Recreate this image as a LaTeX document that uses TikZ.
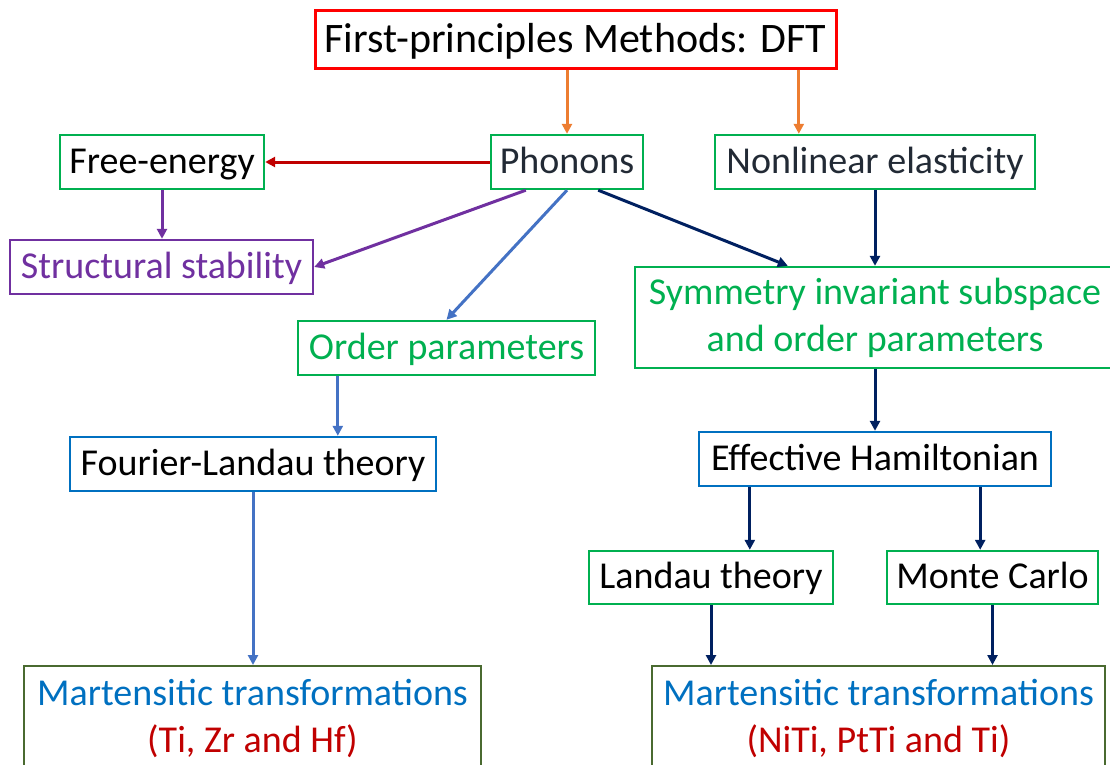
\documentclass[tikz,border=0pt]{standalone}
\usepackage{fontspec}
\setmainfont{Carlito}
\usetikzlibrary{arrows.meta}
\definecolor{cTitle}{HTML}{FF0000}
\definecolor{cGreen}{HTML}{00B050}
\definecolor{cPurple}{HTML}{7030A0}
\definecolor{cBlueBox}{HTML}{0070C0}
\definecolor{cOlive}{HTML}{4A6A30}
\definecolor{cDark}{HTML}{222A35}
\definecolor{cDarkRed}{HTML}{C00000}
\definecolor{cOrange}{HTML}{ED7D31}
\definecolor{cBlueArr}{HTML}{4472C4}
\definecolor{cNavy}{HTML}{002060}
\begin{document}
\begin{tikzpicture}[x=1pt,y=-1pt,
  box/.style={draw, line width=2.4pt, inner sep=0pt, align=center,
    font=\fontsize{38}{47}\selectfont},
  oneline/.style={text height=30pt, text depth=8pt},
  arr/.style={line width=3pt, -{Triangle[length=10pt,width=10pt]}}]
\useasboundingbox (0,0) rectangle (1110,764);
\clip (0,0) rectangle (1110,764);

\node[box, draw=cTitle, line width=3pt, minimum width=521pt, minimum height=58pt,
  text height=33pt, text depth=7pt,
  font=\fontsize{42}{50}\selectfont] (title) at (575.5,39) {First-principles Methods: DFT};
\node[box, oneline, draw=cGreen, minimum width=204pt, minimum height=54pt] (free) at (162,162) {Free-energy};
\node[box, oneline, draw=cGreen, text=cDark, minimum width=152pt, minimum height=54pt] (phon) at (567,162) {Phonons};
\node[box, oneline, draw=cGreen, text=cDark, minimum width=320pt, minimum height=54pt] (nonlin) at (875,162) {Nonlinear elasticity};
\node[box, oneline, draw=cPurple, text=cPurple, minimum width=303pt, minimum height=54pt] (struct) at (161.5,267) {Structural stability};
\node[box, oneline, draw=cGreen, text=cGreen, minimum width=297pt, minimum height=54pt] (order) at (446.5,348) {Order parameters};
\node[box, draw=cGreen, text=cGreen, minimum width=480pt, minimum height=101pt] (sym) at (875,317.5) {Symmetry invariant subspace\\and order parameters};
\node[box, oneline, draw=cBlueBox, minimum width=366pt, minimum height=54pt] (fourier) at (253,464) {Fourier-Landau theory};
\node[box, oneline, draw=cBlueBox, minimum width=352pt, minimum height=54pt] (eh) at (875,459) {Effective Hamiltonian};
\node[box, oneline, draw=cGreen, minimum width=244pt, minimum height=53pt] (landau) at (711,577.5) {Landau theory};
\node[box, oneline, draw=cGreen, minimum width=211pt, minimum height=53pt] (mc) at (992.5,577.5) {Monte Carlo};
\node[box, draw=cOlive, anchor=north, minimum width=457pt] (mL) at (252.5,665)
  {\rule{0pt}{39pt}\textcolor{cBlueBox}{Martensitic transformations}\\\textcolor{cDarkRed}{(Ti, Zr and Hf)}\\\mbox{}};
\node[box, draw=cOlive, anchor=north, minimum width=453pt] (mR) at (878.5,665)
  {\rule{0pt}{39pt}\textcolor{cBlueBox}{Martensitic transformations}\\\textcolor{cDarkRed}{(NiTi, PtTi and Ti)}\\\mbox{}};

% arrows
\draw[arr, cOrange] (title.south -| phon.north) -- (phon.north);
\draw[arr, cOrange] ([xshift=85pt]title.south -| nonlin.north west) -- ([xshift=85pt]nonlin.north west);
\draw[arr, cDarkRed] (phon.west) -- (free.east);
\draw[arr, cPurple] (free.south) -- (free.south |- struct.north);
\draw[arr, cPurple] ([xshift=36pt]phon.south west) -- (struct.east);
\draw[arr, cBlueArr] (phon.south) -- (order.north);
\draw[arr, cNavy] ([xshift=-46pt]phon.south east) -- ([xshift=154pt]sym.north west);
\draw[arr, cNavy] (nonlin.south) -- (sym.north);
\draw[arr, cBlueArr] ([xshift=41pt]order.south west) -- ([xshift=41pt]order.south west |- fourier.north);
\draw[arr, cBlueArr] (fourier.south) -- (fourier.south |- mL.north);
\draw[arr, cNavy] (sym.south) -- (eh.north);
\draw[arr, cNavy] ([xshift=52pt]eh.south west) -- ([xshift=52pt]eh.south west |- landau.north);
\draw[arr, cNavy] ([xshift=-72pt]eh.south east) -- ([xshift=-72pt]eh.south east |- mc.north);
\draw[arr, cNavy] (landau.south) -- (landau.south |- mR.north);
\draw[arr, cNavy] (mc.south) -- (mc.south |- mR.north);
\end{tikzpicture}
\end{document}
